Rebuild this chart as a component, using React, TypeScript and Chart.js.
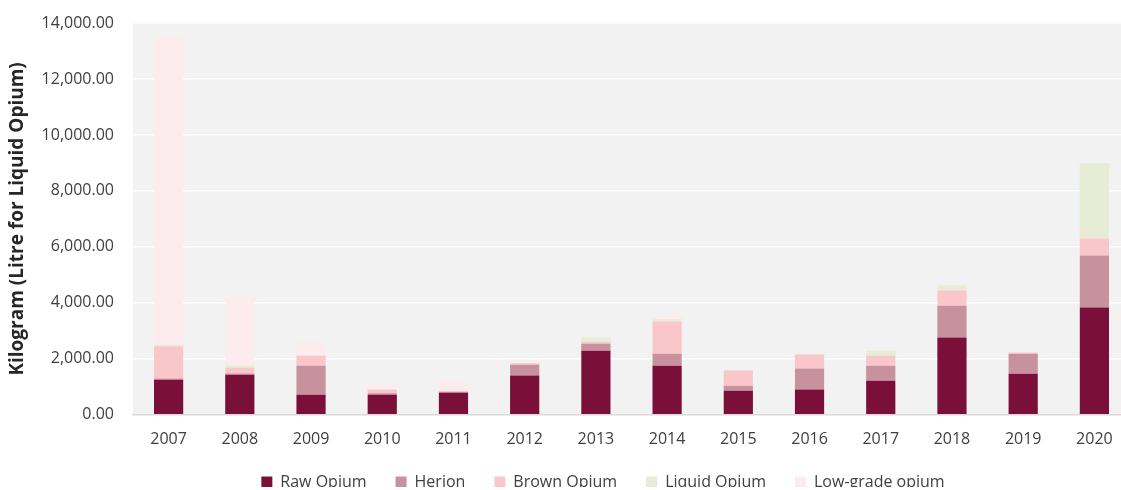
import React, { useEffect, useRef } from "react";
import { Chart, registerables } from "chart.js";

Chart.register(...registerables);

const years = ["2007", "2008", "2009", "2010", "2011", "2012", "2013", "2014", "2015", "2016", "2017", "2018", "2019", "2020"];
const rawOpium = [1250, 1430, 720, 720, 790, 1400, 2290, 1750, 860, 900, 1220, 2760, 1470, 3830];
const herion = [50, 50, 1030, 50, 30, 390, 250, 430, 180, 750, 530, 1140, 710, 1860];
const brownOpium = [1150, 200, 360, 130, 20, 50, 70, 1150, 540, 500, 360, 540, 50, 610];
const liquidOpium = [50, 80, 0, 0, 0, 0, 150, 80, 30, 30, 180, 180, 0, 2690];
const lowGradeOpium = [11000, 2470, 500, 170, 340, 0, 0, 140, 0, 0, 0, 0, 0, 0];
const yTicks = [0, 2000, 4000, 6000, 8000, 10000, 12000, 14000];

const FONT = "'Open Sans', 'Liberation Sans', sans-serif";

const plotBg = {
  id: "plotBg",
  beforeDraw(chart: any) {
    const { ctx, chartArea } = chart;
    ctx.save();
    ctx.fillStyle = "#f2f2f2";
    ctx.fillRect(chartArea.left, chartArea.top, chartArea.right - chartArea.left, chartArea.bottom - chartArea.top);
    ctx.restore();
  },
};

const legendShift = {
  id: "legendShift",
  afterLayout(chart: any) {
    const lg = chart.legend;
    if (!lg) return;
    const dx = 38;
    const dy = -19;
    lg.left += dx;
    lg.right += dx;
    lg.top += dy;
    lg.bottom += dy;
  },
};

export default function App() {
  const ref = useRef<HTMLCanvasElement | null>(null);
  useEffect(() => {
    if (!ref.current) return;
    const chart = new Chart(ref.current, {
      type: "bar",
      data: {
        labels: years,
        datasets: [
          { label: "Raw Opium", data: rawOpium, backgroundColor: "#7a1039" },
          { label: "Herion", data: herion, backgroundColor: "#c8919e" },
          { label: "Brown Opium", data: brownOpium, backgroundColor: "#f9c7ca" },
          { label: "Liquid Opium", data: liquidOpium, backgroundColor: "#e6ecd5" },
          { label: "Low-grade opium", data: lowGradeOpium, backgroundColor: "#fcecee" },
        ],
      },
      options: {
        responsive: false,
        animation: false,
        devicePixelRatio: 1,
        layout: { autoPadding: false, padding: { top: 23, left: 0, right: 0, bottom: -16 } },
        datasets: { bar: { categoryPercentage: 0.41, barPercentage: 1 } },
        scales: {
          x: {
            stacked: true,
            grid: { display: false, drawTicks: false },
            border: { display: true, color: "#d9d9d9", width: 1.5 },
            ticks: { padding: 15, color: "#404040", font: { family: FONT, size: 16 } },
          },
          y: {
            stacked: true,
            min: 0,
            max: 14000,
            afterFit(axis: any) {
              axis.width = 133;
            },
            afterBuildTicks(axis: any) {
              axis.ticks = yTicks.map((v) => ({ value: v }));
            },
            grid: { color: "#ffffff", lineWidth: 1.5, drawTicks: true, tickLength: 19, tickColor: "rgba(0,0,0,0)" },
            border: { display: false },
            ticks: {
              padding: 0,
              color: "#404040",
              font: { family: FONT, size: 16 },
              callback: (v: any) =>
                Number(v).toLocaleString("en-US", { minimumFractionDigits: 2, maximumFractionDigits: 2 }),
            },
            title: {
              display: true,
              text: "Kilogram (Litre for Liquid Opium)",
              color: "#262626",
              font: { family: FONT, size: 19, weight: "bold" },
              padding: { top: 6, bottom: 0 },
            },
          },
        },
        plugins: {
          legend: {
            position: "bottom",
            maxHeight: 42,
            labels: {
              boxWidth: 11,
              boxHeight: 11,
              padding: 29,
              color: "#404040",
              font: { family: FONT, size: 16 },
            },
          },
          tooltip: { enabled: false },
        },
      },
      plugins: [plotBg, legendShift],
    } as any);
    return () => chart.destroy();
  }, []);
  return (
    <div style={{ position: "fixed", left: 0, top: 0, width: 1121, height: 490, overflow: "hidden", background: "#fff" }}>
      <canvas ref={ref} width={1130} height={490} style={{ width: 1130, height: 490, display: "block" }} />
    </div>
  );
}
